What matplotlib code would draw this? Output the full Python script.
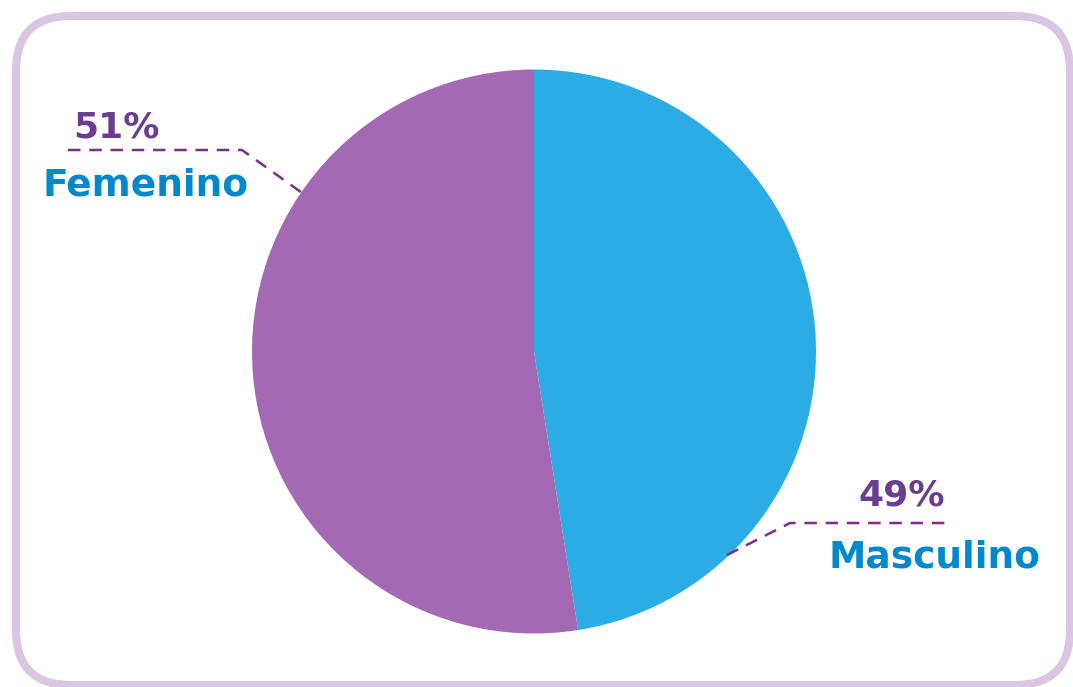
import matplotlib
matplotlib.use("Agg")
import matplotlib.pyplot as plt
from matplotlib.patches import FancyBboxPatch

categories = ["Masculino", "Femenino"]
shares = [47.5, 52.5]          # slice sizes as drawn
pct_labels = ["49%", "51%"]
colors = ["#2CACE4", "#A469B4"]

W, H = 1073, 687
fig = plt.figure(figsize=(W / 100, H / 100), dpi=100)
ax = fig.add_axes([0, 0, 1, 1])
ax.set_xlim(0, W)
ax.set_ylim(0, H)
ax.set_aspect("equal")
ax.axis("off")

def py(y):
    return H - y

# frame
frame = FancyBboxPatch((16, py(685)), 1070 - 16, 685 - 16,
                       boxstyle="round,pad=0,rounding_size=55",
                       fill=False, edgecolor="#D9C6E0", linewidth=5.8,
                       clip_on=False)
ax.add_patch(frame)

ax.pie(shares, colors=colors, startangle=90, counterclock=False,
       center=(534, py(351.5)), radius=282, frame=True,
       wedgeprops=dict(linewidth=0))
ax.set_xlim(0, W)
ax.set_ylim(0, H)
ax.axis("off")

lc = "#7A2E8E"
# leader lines
ax.plot([68, 242, 305], [py(150), py(150), py(195)], color=lc, lw=1.8,
        linestyle=(0, (5, 3.5)))
ax.plot([727, 790, 948], [py(555), py(523), py(523)], color=lc, lw=1.8,
        linestyle=(0, (5, 3.5)))

fam = ["DejaVu Sans"]
pc = "#6A3D91"
cc = "#0088CC"
ax.text(73, py(127), pct_labels[1], color=pc, fontsize=26, fontweight="bold",
        family=fam, ha="left", va="center")
ax.text(43, py(185), categories[1], color=cc, fontsize=27, fontweight="bold",
        family=fam, ha="left", va="center")
ax.text(858, py(495), pct_labels[0], color=pc, fontsize=26, fontweight="bold",
        family=fam, ha="left", va="center")
ax.text(829, py(558), categories[0], color=cc, fontsize=27, fontweight="bold",
        family=fam, ha="left", va="center")

fig.savefig("out.png", dpi=100)
